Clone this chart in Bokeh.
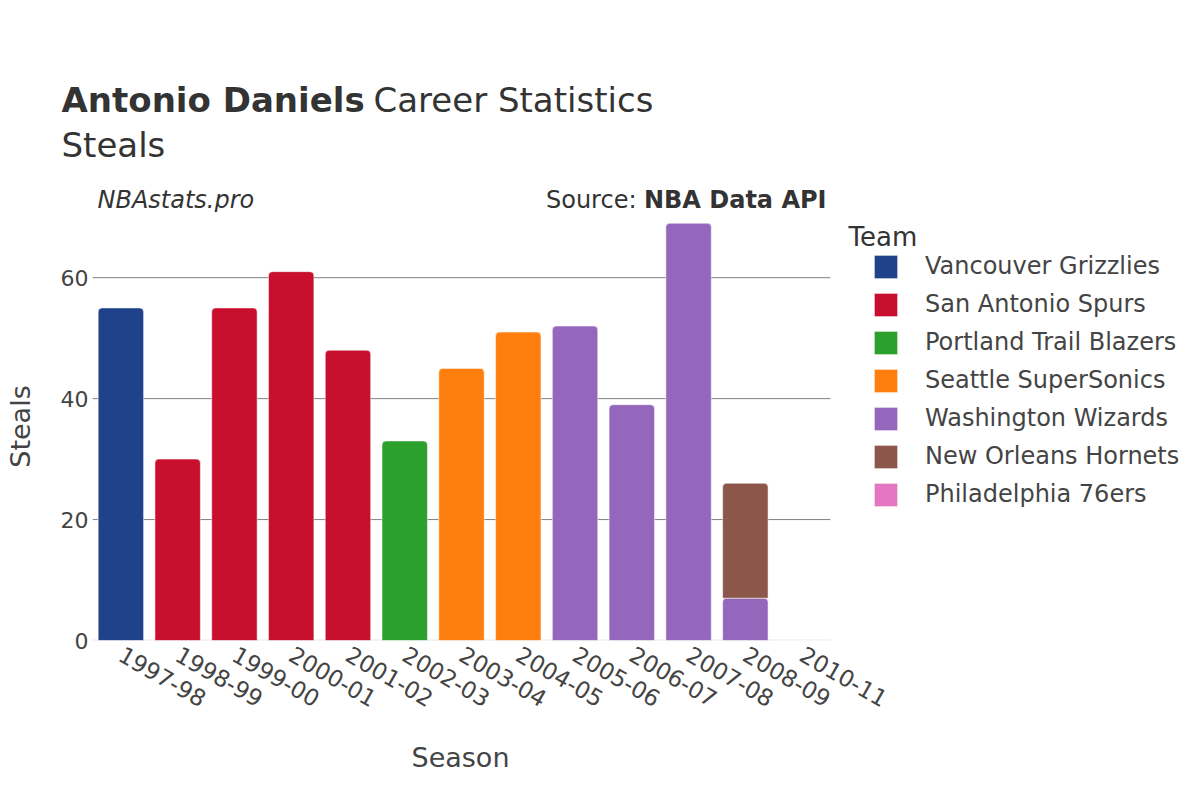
import math
from bokeh.plotting import figure
from bokeh.models import (Range1d, Label, Legend, LegendItem, FixedTicker, Title)
from bokeh.layouts import column, row
from bokeh.embed import file_html
from bokeh.resources import INLINE

seasons = ["1997-98", "1998-99", "1999-00", "2000-01", "2001-02", "2002-03",
           "2003-04", "2004-05", "2005-06", "2006-07", "2007-08", "2008-09", "2010-11"]

teams = ["Vancouver Grizzlies", "San Antonio Spurs", "Portland Trail Blazers",
         "Seattle SuperSonics", "Washington Wizards", "New Orleans Hornets",
         "Philadelphia 76ers"]
team_colors = ["#1f428a", "#c8102e", "#2ca02c", "#ff7f0e", "#9467bd", "#8c564b", "#e377c2"]

vancouver = [55, None, None, None, None, None, None, None, None, None, None, None, None]
san_antonio = [None, 30, 55, 61, 48, None, None, None, None, None, None, None, None]
portland = [None, None, None, None, None, 33, None, None, None, None, None, None, None]
seattle = [None, None, None, None, None, None, 45, 51, None, None, None, None, None]
washington = [None, None, None, None, None, None, None, None, 52, 39, 69, 7, None]
new_orleans = [None, None, None, None, None, None, None, None, None, None, None, 19, None]
philadelphia = [None, None, None, None, None, None, None, None, None, None, None, None, 0]

series = [vancouver, san_antonio, portland, seattle, washington, new_orleans, philadelphia]

y_ticks = [0, 20, 40, 60]

FONT = "DejaVu Sans"
TXT = "#444444"
DARK = "#333333"

# ---------- heading (titles) ----------
HEAD_H = 212
head = figure(width=1200, height=HEAD_H, x_range=Range1d(0, 1200),
              y_range=Range1d(HEAD_H, 0), x_axis_type=None, y_axis_type=None,
              output_backend="svg", toolbar_location=None, min_border=0)
head.outline_line_color = None


def lab(text, x, y, size, style="normal", align="left", color=DARK):
    head.add_layout(Label(x=x, y=y, text=text, text_font=FONT, text_font_size=size,
                          text_font_style=style, text_align=align,
                          text_baseline="alphabetic", text_color=color))


lab("Antonio Daniels", 61, 99, "34px", "bold")
lab("Career Statistics", 373, 99, "34px")
lab("Steals", 61, 144, "34px")
lab("NBAstats.pro", 97, 199, "24px", "italic")
lab("Source:", 636, 199, "24px", align="right")
lab("NBA Data API", 826, 199, "24px", "bold", align="right")

# ---------- main chart ----------
n = len(seasons)
idx = list(range(n))
PLOT_LEFT, PLOT_RIGHT = 92, 830          # page pixels of the bar area
cat_px = (PLOT_RIGHT - PLOT_LEFT) / n     # pixels per season slot
x_end = -0.5 + (1200 - PLOT_LEFT) / cat_px  # frame extends under the legend
px_per_unit = 439 / 72.6
y_top = (640 - HEAD_H) / px_per_unit

p = figure(width=1200, height=800 - HEAD_H, x_range=Range1d(-0.5, x_end),
           y_range=Range1d(0, y_top), output_backend="svg", toolbar_location=None,
           min_border_left=PLOT_LEFT, min_border_right=0, min_border_top=0,
           min_border_bottom=160)
p.outline_line_color = None
p.xgrid.visible = False
p.ygrid.visible = False

p.yaxis.ticker = FixedTicker(ticks=y_ticks)
p.yaxis.axis_line_color = None
p.yaxis.major_tick_line_color = None
p.yaxis.minor_tick_line_color = None
p.yaxis.major_tick_out = 0
p.yaxis.major_tick_in = 0
p.yaxis.major_label_text_font = FONT
p.yaxis.major_label_text_font_size = "22px"
p.yaxis.major_label_text_color = TXT
p.yaxis.major_label_standoff = 4
p.yaxis.axis_label = "Steals"
p.yaxis.axis_label_text_font = FONT
p.yaxis.axis_label_text_font_size = "27px"
p.yaxis.axis_label_text_font_style = "normal"
p.yaxis.axis_label_text_color = TXT
p.yaxis.axis_label_standoff = 22

p.xaxis.ticker = FixedTicker(ticks=idx)
p.xaxis.major_label_overrides = {i: s for i, s in zip(idx, seasons)}
p.xaxis.axis_line_color = None
p.xaxis.major_tick_line_color = None
p.xaxis.minor_tick_line_color = None
p.xaxis.major_tick_out = 0
p.xaxis.major_tick_in = 0
p.xaxis.major_label_text_font = FONT
p.xaxis.major_label_text_font_size = "23px"
p.xaxis.major_label_text_color = TXT
p.xaxis.major_label_orientation = -math.pi / 6
p.xaxis.major_label_standoff = 12

p.add_layout(Title(text="Season", align="left", offset=411 - PLOT_LEFT,
                   text_font=FONT, text_font_size="27px", text_font_style="normal",
                   text_color=TXT, standoff=42), "below")

# grid lines across the bar area only
grid_y = [t for t in y_ticks if t != 0]
p.segment(x0=[-0.5] * len(grid_y), x1=[n - 0.5] * len(grid_y), y0=grid_y, y1=grid_y,
          line_color="#808080", line_width=1)
p.segment(x0=[-0.5], x1=[n - 0.5], y0=[0], y1=[0], line_color="#e8e8e8", line_width=2)

bottoms = [0] * n
items = []
for name, color, vals in zip(teams, team_colors, series):
    xs, bots, tops = [], [], []
    for i, v in enumerate(vals):
        if v is None:
            continue
        xs.append(i)
        bots.append(bottoms[i])
        tops.append(bottoms[i] + v)
        bottoms[i] += v
    r = p.vbar(x=xs, bottom=bots, top=tops, width=0.8, fill_color=color,
               line_color="white", line_width=0.5, border_radius=(4, 4, 0, 0))
    items.append(LegendItem(label=name, renderers=[r]))

# legend: square swatch of 23px (rect inset 10% in a 29px glyph box), rows 38px apart
legend = Legend(items=items, location=(871 - PLOT_LEFT, 640 - 508.5),
                orientation="vertical",
                label_text_font=FONT, label_text_font_size="24px",
                label_text_color=TXT, glyph_width=29, glyph_height=29,
                label_height=29, label_standoff=25, spacing=9, padding=0,
                margin=0, border_line_alpha=0, background_fill_alpha=0)
p.add_layout(legend, "center")

p.add_layout(Label(x=848 - PLOT_LEFT, y=640 - 236.5, x_units="screen", y_units="screen",
                   text="Team", text_font=FONT, text_font_size="26px",
                   text_color=DARK, text_baseline="alphabetic"))

layout = column(row(head), row(p), spacing=0)
open("out.html", "w").write(file_html(layout, INLINE))
